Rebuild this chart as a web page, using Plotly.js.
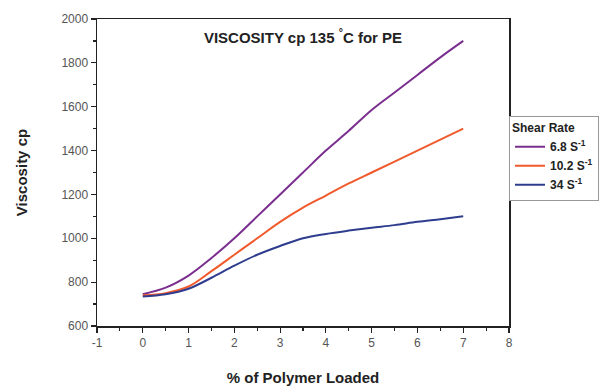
<!DOCTYPE html>
<html>
<head>
<meta charset="utf-8">
<script src="https://cdn.plot.ly/plotly-3.0.1.min.js"></script>
<style>html,body{margin:0;padding:0;background:#fff}#chart{width:603px;height:386px}</style>
</head>
<body>
<div id="chart"></div>
<script>
const polymerLoaded = [0, 0.5, 1, 1.5, 2, 2.5, 3, 3.5, 4, 4.5, 5, 5.5, 6, 6.5, 7];
const visc68 = [745, 775, 830, 910, 1000, 1100, 1200, 1300, 1400, 1490, 1585, 1665, 1745, 1825, 1900];
const visc102 = [740, 750, 780, 850, 925, 1000, 1075, 1140, 1195, 1250, 1300, 1350, 1400, 1450, 1500];
const visc34 = [735, 745, 770, 820, 875, 925, 965, 1000, 1020, 1035, 1048, 1060, 1075, 1087, 1100];
const seriesNames = ["6.8 S<sup>-1</sup>", "10.2 S<sup>-1</sup>", "34 S<sup>-1</sup>"];
const seriesColors = ["#7a2f8f", "#f05a2c", "#2f3d8e"];
const seriesValues = [visc68, visc102, visc34];
const xTickVals = [-1, 0, 1, 2, 3, 4, 5, 6, 7, 8];
const xTickText = ["-1", "0", "1", "2", "3", "4", "5", "6", "7", "8"];

const traces = seriesValues.map((v, i) => ({
  x: polymerLoaded, y: v, type: "scatter", mode: "lines",
  name: "<b>" + seriesNames[i] + "</b>", line: {color: seriesColors[i], width: 2, shape: "spline", smoothing: 1}
}));

const F = "Liberation Sans, Arial, sans-serif";
const layout = {
  width: 603, height: 386,
  margin: {l: 97, r: 94, t: 19, b: 60, autoexpand: false},
  paper_bgcolor: "#fff", plot_bgcolor: "#fff",
  font: {family: F, color: "#444", size: 12},
  showlegend: true,
  title: {text: "<b>VISCOSITY cp 135 <sup>°</sup>C for PE</b>", font: {family: F, size: 15, color: "#222"},
    x: 0.5, xref: "paper", y: 0.94, yref: "paper", xanchor: "center", yanchor: "middle"},
  xaxis: {
    range: [-1, 8], tickvals: xTickVals, ticktext: xTickText, ticks: "outside", ticklen: 5, tickwidth: 1.2, tickcolor: "#222",
    showline: true, linecolor: "#222", linewidth: 1.5, mirror: true, showgrid: false, zeroline: false,
    minor: {dtick: 0.5, tick0: 0, ticks: "outside", ticklen: 3, tickcolor: "#222", showgrid: false},
    tickfont: {family: F, size: 12, color: "#555"},
    title: {text: "<b>% of Polymer Loaded</b>", font: {family: F, size: 15, color: "#222"}, standoff: 30}
  },
  yaxis: {
    range: [600, 2000], dtick: 200, ticks: "outside", ticklen: 5, tickwidth: 1.2, tickcolor: "#222",
    showline: true, linecolor: "#222", linewidth: 1.5, mirror: true, showgrid: false, zeroline: false,
    minor: {dtick: 100, ticks: "outside", ticklen: 3, tickcolor: "#222", showgrid: false},
    tickfont: {family: F, size: 12, color: "#555"},
    title: {text: "<b>Viscosity cp</b>", font: {family: F, size: 15, color: "#222"}, standoff: 30}
  },
  legend: {
    x: 1.0, xanchor: "left", y: 0.685, yanchor: "top",
    bordercolor: "#999", borderwidth: 1, bgcolor: "#fff",
    font: {family: F, size: 12, color: "#222"},
    title: {text: "<b>Shear Rate</b>", font: {family: F, size: 12, color: "#222"}},
    tracegroupgap: 0, itemwidth: 30
  }
};
Plotly.newPlot("chart", traces, layout, {displayModeBar: false, staticPlot: true});
</script>
</body>
</html>
